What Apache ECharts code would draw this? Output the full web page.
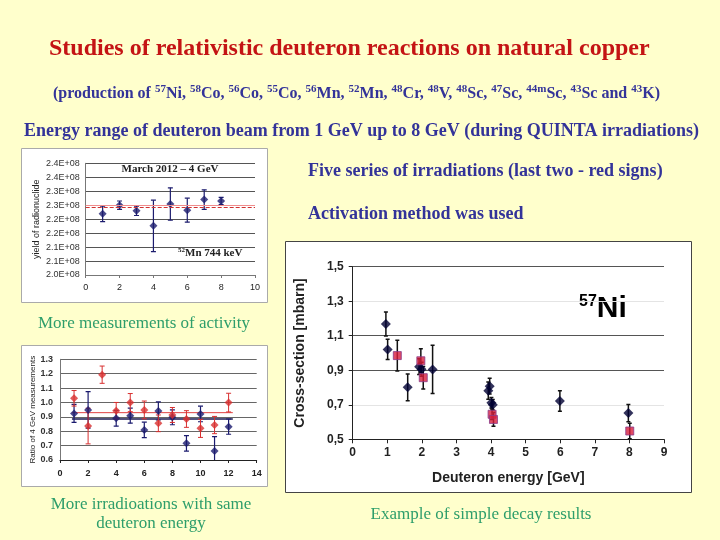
<!DOCTYPE html>
<html><head><meta charset="utf-8">
<script src="https://cdn.jsdelivr.net/npm/echarts@6/dist/echarts.min.js"></script>
<style>html,body{margin:0;padding:0;background:#FFFFCC;}#c{width:720px;height:540px;}</style>
</head><body><div id="c"></div>
<script>
// ---- Main chart: 57Ni cross-section vs deuteron energy ----
const niBlackX   = [0.96, 1.01, 1.59, 1.92, 1.99, 2.31, 3.92, 3.96, 4.01, 4.05, 5.99, 7.97];
const niBlackY   = [1.168, 1.021, 0.801, 0.921, 0.906, 0.905, 0.782, 0.808, 0.712, 0.700, 0.722, 0.652];
const niBlackErr = [0.070, 0.058, 0.077, 0.045, 0.040, 0.140, 0.050, 0.045, 0.030, 0.030, 0.060, 0.050];
const niRedX     = [1.29, 1.97, 2.04, 4.03, 4.07, 8.01];
const niRedY     = [0.985, 0.955, 0.857, 0.645, 0.615, 0.548];
const niRedErr   = [0.089, 0.070, 0.065, 0.030, 0.040, 0.045];

// ---- Small chart 1: yield of 52Mn, March 2012 - 4 GeV ----
const mnRun    = [1, 2, 3, 4, 5, 6, 7, 8];
const mnYield  = [2.219e8, 2.250e8, 2.230e8, 2.176e8, 2.254e8, 2.232e8, 2.270e8, 2.265e8];
const mnErr    = [0.028e8, 0.015e8, 0.017e8, 0.092e8, 0.058e8, 0.043e8, 0.035e8, 0.013e8];
const mnMeanSolid  = 2.2485e8;
const mnMeanDashed = 2.2420e8;
const mnYTickLabels = ['2.0E+08','2.1E+08','2.1E+08','2.2E+08','2.2E+08','2.3E+08','2.3E+08','2.4E+08','2.4E+08'];

// ---- Small chart 2: ratio of 4 GeV measurements ----
const ratioRedX    = [1, 2, 3, 4, 5, 6, 7, 8, 9, 10, 11, 12];
const ratioRed     = [1.029, 0.836, 1.193, 0.943, 0.999, 0.948, 0.855, 0.913, 0.885, 0.820, 0.843, 0.999];
const ratioRedErr  = [0.054, 0.124, 0.060, 0.057, 0.063, 0.062, 0.058, 0.052, 0.058, 0.063, 0.060, 0.065];
const ratioBlueX   = [1, 2, 4, 5, 6, 7, 8, 9, 10, 11, 12];
const ratioBlue    = [0.924, 0.948, 0.890, 0.908, 0.809, 0.941, 0.897, 0.716, 0.920, 0.663, 0.832];
const ratioBlueErr = [0.063, 0.127, 0.055, 0.052, 0.054, 0.063, 0.052, 0.054, 0.054, 0.100, 0.053];
const ratioMeanX   = [0.85, 12.3];
const ratioMeanBlue = 0.885;
const ratioMeanRed  = 0.929;

function pts(xs, ys) { return xs.map((x, i) => [x, ys[i]]); }
function errs(xs, ys, es) { return xs.map((x, i) => [x, ys[i] - es[i], ys[i] + es[i]]); }
function errRender(cap, lw) {
  return function (params, api) {
    const x = api.value(0);
    const a = api.coord([x, api.value(2)]);
    const b = api.coord([x, api.value(1)]);
    const st = { stroke: api.visual('color'), lineWidth: lw };
    return { type: 'group', children: [
      { type: 'line', shape: { x1: a[0], y1: a[1], x2: b[0], y2: b[1] }, style: st },
      { type: 'line', shape: { x1: a[0] - cap, y1: a[1], x2: a[0] + cap, y2: a[1] }, style: st },
      { type: 'line', shape: { x1: b[0] - cap, y1: b[1], x2: b[0] + cap, y2: b[1] }, style: st }
    ]};
  };
}

const serif = '"Liberation Serif", "Times New Roman", serif';
const sans = '"Liberation Sans", Arial, sans-serif';
const navy = '#333399';
const green = '#2E9E6B';

const chart = echarts.init(document.getElementById('c'), null, { renderer: 'canvas' });
chart.setOption({
  backgroundColor: '#FFFFCC',
  animation: false,
  graphic: [
    { type: 'rect', z: -10, shape: { x: 285.5, y: 241.5, width: 406, height: 251 }, style: { fill: '#fff', stroke: '#444', lineWidth: 1 } },
    { type: 'rect', z: -10, shape: { x: 21.5, y: 148.5, width: 246, height: 154 }, style: { fill: '#fff', stroke: '#aaa', lineWidth: 1 } },
    { type: 'rect', z: -10, shape: { x: 21.5, y: 345.5, width: 246, height: 141 }, style: { fill: '#fff', stroke: '#aaa', lineWidth: 1 } },
    { type: 'text', style: { x: 49, y: 49, text: 'Studies of relativistic deuteron reactions on natural copper', font: 'bold 24px ' + serif, fill: '#C41414', textVerticalAlign: 'middle' } },
    { type: 'text', style: { x: 53, y: 94, textVerticalAlign: 'middle', fill: navy, font: 'bold 16px ' + serif,
        text: '(production of {s|57}Ni, {s|58}Co, {s|56}Co, {s|55}Co, {s|56}Mn, {s|52}Mn, {s|48}Cr, {s|48}V, {s|48}Sc, {s|47}Sc, {s|44m}Sc, {s|43}Sc and {s|43}K)',
        rich: { s: { font: 'bold 11px ' + serif, fill: navy, verticalAlign: 'top', lineHeight: 20 } } } },
    { type: 'text', style: { x: 24, y: 131, text: 'Energy range of deuteron beam from 1 GeV up to 8 GeV (during QUINTA irradiations)', font: 'bold 18px ' + serif, fill: navy, textVerticalAlign: 'middle' } },
    { type: 'text', style: { x: 308, y: 171, text: 'Five series of irradiations (last two - red signs)', font: 'bold 18px ' + serif, fill: navy, textVerticalAlign: 'middle' } },
    { type: 'text', style: { x: 308, y: 214, text: 'Activation method was used', font: 'bold 18px ' + serif, fill: navy, textVerticalAlign: 'middle' } },
    { type: 'text', style: { x: 38, y: 324, text: 'More measurements of activity', font: '17px ' + serif, fill: green, textVerticalAlign: 'middle' } },
    { type: 'text', style: { x: 151, y: 505, text: 'More irradioations with same', font: '17px ' + serif, fill: green, textAlign: 'center', textVerticalAlign: 'middle' } },
    { type: 'text', style: { x: 151, y: 524, text: 'deuteron energy', font: '17px ' + serif, fill: green, textAlign: 'center', textVerticalAlign: 'middle' } },
    { type: 'text', style: { x: 481, y: 515, text: 'Example of simple decay results', font: '17px ' + serif, fill: green, textAlign: 'center', textVerticalAlign: 'middle' } },
    { type: 'text', style: { x: 579, y: 309, textVerticalAlign: 'middle', text: '{s|57}{b|Ni}',
        rich: { s: { font: 'bold 16px ' + sans, fill: '#000', verticalAlign: 'top', lineHeight: 30 }, b: { font: 'bold 30px ' + sans, fill: '#000', lineHeight: 30 } } } },
    { type: 'text', style: { x: 170, y: 169, text: 'March 2012 \u2013 4 GeV', font: 'bold 11px ' + serif, fill: '#222', textAlign: 'center', textVerticalAlign: 'middle' } },
    { type: 'text', style: { x: 178, y: 253, textVerticalAlign: 'middle', text: '{s|52}Mn 744 keV', font: 'bold 11px ' + serif, fill: '#222',
        rich: { s: { font: 'bold 7px ' + serif, fill: '#222', verticalAlign: 'top', lineHeight: 13 } } } }
  ],
  grid: [
    { left: 352.7, right: 56, top: 266.7, bottom: 100.7 },
    { left: 85.7, right: 465, top: 163.3, bottom: 265 },
    { left: 60, right: 463.3, top: 359.3, bottom: 80 }
  ],
  xAxis: [
    { gridIndex: 0, type: 'value', min: 0, max: 9, interval: 1,
      name: 'Deuteron energy [GeV]', nameLocation: 'middle', nameGap: 32,
      nameTextStyle: { fontFamily: sans, fontWeight: 'bold', fontSize: 14, color: '#222' },
      axisLine: { lineStyle: { color: '#222' } }, axisTick: { length: 4, lineStyle: { color: '#222' } },
      axisLabel: { fontFamily: sans, fontWeight: 'bold', fontSize: 12, color: '#222', margin: 7 }, splitLine: { show: false } },
    { gridIndex: 1, type: 'value', min: 0, max: 10, interval: 2,
      axisLine: { lineStyle: { color: '#777' } }, axisTick: { length: 3, lineStyle: { color: '#777' } },
      axisLabel: { fontFamily: sans, fontSize: 9, color: '#222', margin: 8 }, splitLine: { show: false } },
    { gridIndex: 2, type: 'value', min: 0, max: 14, interval: 2,
      axisLine: { lineStyle: { color: '#222' } }, axisTick: { length: 3, lineStyle: { color: '#222' } },
      axisLabel: { fontFamily: sans, fontWeight: 'bold', fontSize: 9, color: '#222', margin: 9 }, splitLine: { show: false } }
  ],
  yAxis: [
    { gridIndex: 0, type: 'value', min: 0.5, max: 1.5, interval: 0.2,
      name: 'Cross-section [mbarn]', nameLocation: 'middle', nameGap: 46,
      nameTextStyle: { fontFamily: sans, fontWeight: 'bold', fontSize: 14, color: '#222' },
      axisLine: { show: true, lineStyle: { color: '#222' } }, axisTick: { show: true, length: 4, lineStyle: { color: '#222' } },
      axisLabel: { fontFamily: sans, fontWeight: 'bold', fontSize: 12, color: '#222', margin: 9,
        formatter: v => v.toFixed(1).replace('.', ',') },
      splitLine: { lineStyle: { color: ['#222', '#e4e4e4', '#555', '#555', '#e4e4e4', '#555'] } } },
    { gridIndex: 1, type: 'value', min: 2.0e8, max: 2.4e8, interval: 0.05e8,
      name: 'yield of radionuclide', nameLocation: 'middle', nameGap: 45,
      nameTextStyle: { fontFamily: sans, fontSize: 9, color: '#222' },
      axisLine: { show: true, lineStyle: { color: '#777' } }, axisTick: { show: false },
      axisLabel: { fontFamily: sans, fontSize: 9, color: '#333', margin: 6,
        formatter: v => mnYTickLabels[Math.round((v - 2.0e8) / 0.05e8)] },
      splitLine: { lineStyle: { color: '#555' } } },
    { gridIndex: 2, type: 'value', min: 0.6, max: 1.3, interval: 0.1,
      name: 'Ratio of 4 GeV measurements', nameLocation: 'middle', nameGap: 22,
      nameTextStyle: { fontFamily: sans, fontSize: 8, color: '#222' },
      axisLine: { show: true, lineStyle: { color: '#777' } }, axisTick: { show: false },
      axisLabel: { fontFamily: sans, fontWeight: 'bold', fontSize: 9, color: '#333', margin: 7,
        formatter: v => v.toFixed(1) },
      splitLine: { lineStyle: { color: '#666' } } }
  ],
  series: [
    // main chart
    { type: 'custom', xAxisIndex: 0, yAxisIndex: 0, clip: true, itemStyle: { color: '#111' },
      renderItem: errRender(2, 1.5), data: errs(niBlackX, niBlackY, niBlackErr), z: 3 },
    { type: 'custom', xAxisIndex: 0, yAxisIndex: 0, clip: true, itemStyle: { color: '#111' },
      renderItem: errRender(2, 1.5), data: errs(niRedX, niRedY, niRedErr), z: 3 },
    { type: 'scatter', xAxisIndex: 0, yAxisIndex: 0, symbol: 'diamond', symbolSize: 10,
      itemStyle: { color: '#000033' }, data: pts(niBlackX, niBlackY), z: 4 },
    { type: 'scatter', xAxisIndex: 0, yAxisIndex: 0, symbol: 'rect', symbolSize: 8,
      itemStyle: { color: '#D81E3C', borderColor: '#8A3A8A', borderWidth: 1 }, data: pts(niRedX, niRedY), z: 5 },
    // small chart 1
    { type: 'custom', xAxisIndex: 1, yAxisIndex: 1, clip: true, itemStyle: { color: '#1C1C6E' },
      renderItem: errRender(2.5, 1.2), data: errs(mnRun, mnYield, mnErr), z: 3 },
    { type: 'scatter', xAxisIndex: 1, yAxisIndex: 1, symbol: 'diamond', symbolSize: 8,
      itemStyle: { color: '#1C1C6E' }, data: pts(mnRun, mnYield), z: 4,
      markLine: { silent: true, symbol: 'none', label: { show: false },
        data: [ { yAxis: mnMeanSolid, lineStyle: { color: '#F08C8C', type: 'solid', width: 1 } },
                { yAxis: mnMeanDashed, lineStyle: { color: '#D03030', type: 'dashed', width: 1 } } ] } },
    // small chart 2
    { type: 'line', xAxisIndex: 2, yAxisIndex: 2, symbol: 'none', lineStyle: { color: '#1A1A50', width: 1.3 },
      data: ratioMeanX.map(x => [x, ratioMeanBlue]), z: 2 },
    { type: 'line', xAxisIndex: 2, yAxisIndex: 2, symbol: 'none', lineStyle: { color: '#E04040', width: 1 },
      data: ratioMeanX.map(x => [x, ratioMeanRed]), z: 2 },
    { type: 'custom', xAxisIndex: 2, yAxisIndex: 2, clip: true, itemStyle: { color: '#1A1A6E' },
      renderItem: errRender(2.5, 1.2), data: errs(ratioBlueX, ratioBlue, ratioBlueErr), z: 3 },
    { type: 'custom', xAxisIndex: 2, yAxisIndex: 2, clip: true, itemStyle: { color: '#D83030' },
      renderItem: errRender(2.5, 1), data: errs(ratioRedX, ratioRed, ratioRedErr), z: 3 },
    { type: 'scatter', xAxisIndex: 2, yAxisIndex: 2, symbol: 'diamond', symbolSize: 8,
      itemStyle: { color: '#1A1A6E' }, data: pts(ratioBlueX, ratioBlue), z: 4 },
    { type: 'scatter', xAxisIndex: 2, yAxisIndex: 2, symbol: 'diamond', symbolSize: 8,
      itemStyle: { color: '#D83030' }, data: pts(ratioRedX, ratioRed), z: 5 }
  ]
});
</script>
</body></html>
